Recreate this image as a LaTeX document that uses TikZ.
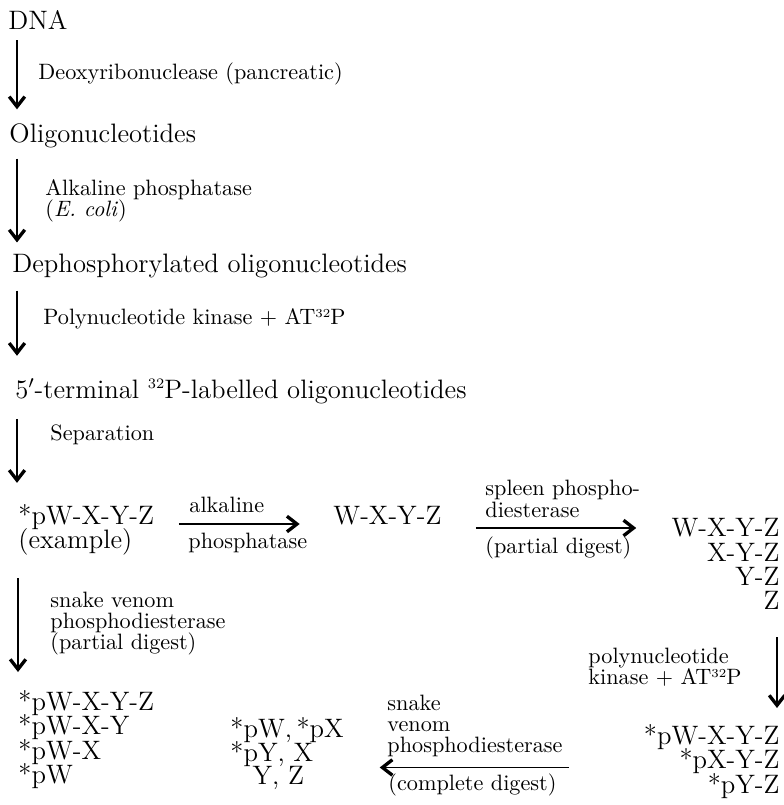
\documentclass[tikz,border=0pt]{standalone}
\usepackage{amsmath,amssymb}
\usepackage{xcolor}
\usetikzlibrary{arrows.meta}

\newcommand{\tightlines}{\lineskiplimit=-10pt\relax}
% small raised mass number, as in the printed original
\newcommand{\massnum}[2]{\raisebox{#2}{\fontsize{#1}{#1}\selectfont 32}}

\tikzset{
    stage/.style={inner sep=0, font=\large},
    list/.style={inner sep=0, align=left, font=\fontsize{12}{11}\selectfont\tightlines},
    enzyme/.style={inner sep=0, align=left, font=\fontsize{10}{9.3}\selectfont\tightlines},
    flow/.style={line width=0.6pt, -{Straight Barb[length=4.5pt,width=7pt,line width=1.5pt]}}
}

\begin{document}
\begin{tikzpicture}[x=0.45pt, y=-0.45pt]
    \useasboundingbox (0, 0) rectangle (783, 805);
    \coordinate (ax) at (17, 0);
    \coordinate (bx) at (18, 0);
    \coordinate (cx) at (777, 0);

    % preparation of the labelled oligonucleotides
    \node [stage, anchor=base west] (dna) at (8, 30) {DNA};
    \node [stage, anchor=base west] (oligo) at (9, 143) {Oligonucleotides};
    \node [stage, anchor=base west] (dephos) at (12, 273) {Dephosphorylated oligonucleotides};
    \node [stage, anchor=base west] (labelled) at (15, 398) {5$'$-terminal \massnum{6.5}{4.2pt}P-labelled oligonucleotides};

    \node [enzyme, anchor=base west] (dnase) at (38, 80) {Deoxyribonuclease (pancreatic)};
    \node [enzyme, anchor=north west] (phos) at (45, 179) {Alkaline phosphatase\\(\textit{E.\ coli})};
    \node [enzyme, anchor=base west] (kinase) at (43, 325) {Polynucleotide kinase $+$ AT\massnum{5.5}{3.3pt}P};
    \node [enzyme, anchor=base west] (sep) at (50, 440) {Separation};

    \draw[flow, shorten <=4.5pt, shorten >=6.5pt] (dna.south -| ax) -- (oligo.north -| ax);
    \draw[flow, shorten <=4.4pt, shorten >=5.2pt] (oligo.south -| ax) -- (dephos.north -| ax);
    \draw[flow, shorten <=5.3pt, shorten >=10pt] (dephos.south -| ax) -- (labelled.north -| ax);

    % sequencing of one oligonucleotide
    \node [list, anchor=north west] (example) at (18, 504) {*pW-X-Y-Z\\(example)};
    \node [stage, anchor=base west] (free) at (333, 524) {W-X-Y-Z};
    \node [list, anchor=north east, align=right] (partial) at (780, 518) {W-X-Y-Z\\X-Y-Z\\Y-Z\\Z};
    \node [list, anchor=north east, align=right] (relabel) at (780, 724) {*pW-X-Y-Z\\*pX-Y-Z\\*pY-Z};
    \node [list, anchor=north west, font=\fontsize{12}{10.6}\selectfont\tightlines] (complete) at (230, 717) {*pW,\,*pX\\*pY, X\\\hspace*{10pt}Y, Z};
    \node [list, anchor=north west] (ladder) at (18, 690) {*pW-X-Y-Z\\*pW-X-Y\\*pW-X\\*pW};

    \node [enzyme, anchor=base west] (alk) at (189, 512) {alkaline};
    \node [enzyme, anchor=base west] (alkb) at (188, 548) {phosphatase};
    \node [enzyme, anchor=north west, font=\fontsize{10}{9.8}\selectfont\tightlines] (spleen) at (485, 480) {spleen phospho-\\diesterase};
    \node [enzyme, anchor=base west] (spleenb) at (485, 553) {(partial digest)};
    \node [enzyme, anchor=north west] (pnk) at (588, 648) {polynucleotide\\kinase $+$ AT\massnum{5.5}{3.3pt}P};
    \node [enzyme, anchor=north west] (venom) at (387, 695) {snake\\venom\\phosphodiesterase};
    \node [enzyme, anchor=base west] (venomb) at (388, 790) {(complete digest)};
    \node [enzyme, anchor=north west] (venomp) at (50, 592) {snake venom\\phosphodiesterase\\(partial digest)};

    \coordinate (sp) at ([yshift=-1.8pt]free.base east);
    \coordinate (cd) at ([yshift=-2.7pt]relabel.west);

    \draw[flow, shorten <=6.7pt, shorten >=9.5pt] (labelled.south -| ax) -- (example.north -| ax);
    \draw[flow, shorten <=11pt, shorten >=15pt] (example.east |- free.base) -- (free.base west);
    \draw[flow, shorten <=15.3pt, shorten >=15.7pt] (sp) -- (sp -| partial.west);
    \draw[flow, shorten <=12pt, shorten >=7.2pt] (partial.south -| cx) -- (relabel.north -| cx);
    \draw[flow, shorten <=33.5pt, shorten >=16pt] (cd) -- (cd -| complete.east);
    \draw[flow, shorten <=9.9pt, shorten >=8.1pt] (example.south -| bx) -- (ladder.north -| bx);

\end{tikzpicture}
\end{document}
